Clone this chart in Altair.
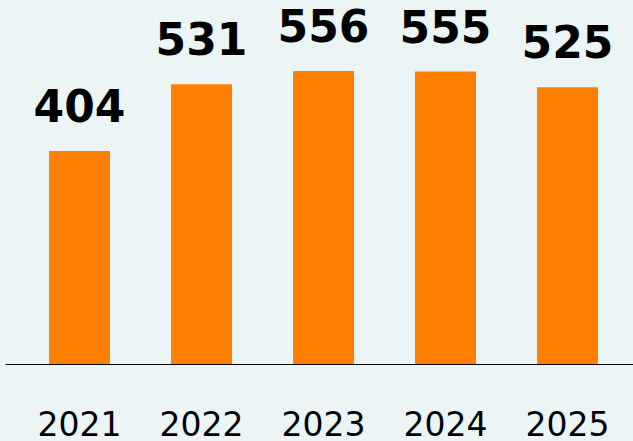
import altair as alt
import pandas as pd

years = ["2021", "2022", "2023", "2024", "2025"]
values = [404, 531, 556, 555, 525]

df = pd.DataFrame({"year": years, "value": values})

x = alt.X("year:N", sort=years, title=None,
          scale=alt.Scale(paddingInner=0.5, paddingOuter=0.3238, align=0.557),
          axis=alt.Axis(labelAngle=0, ticks=False, tickSize=0, labelPadding=71,
                        labelBaseline="alphabetic", labelFont="DejaVu Sans",
                        labelFontSize=33, labelColor="#000000",
                        domainColor="#000000", domainWidth=1, grid=False))
y = alt.Y("value:Q", title=None, scale=alt.Scale(domain=[0, 690.7], nice=False, zero=True),
          axis=None)

bars = alt.Chart(df).mark_bar(color="#FF8000").encode(x=x, y=y)
labels = alt.Chart(df).mark_text(font="DejaVu Sans", fontWeight="bold", fontSize=44,
                                 baseline="alphabetic", dy=-29, color="#000000").encode(
    x=alt.X("year:N", sort=years), y=alt.Y("value:Q"), text="value:Q")

chart = (bars + labels).properties(
    width=628, height=364,
    autosize=alt.AutoSizeParams(type="none"),
    padding={"left": 5, "top": 0, "right": 0, "bottom": 77},
    background="#EBF5F5",
).configure_view(stroke=None)

chart.save("out.html", embed_options={"renderer": "svg", "actions": False})
